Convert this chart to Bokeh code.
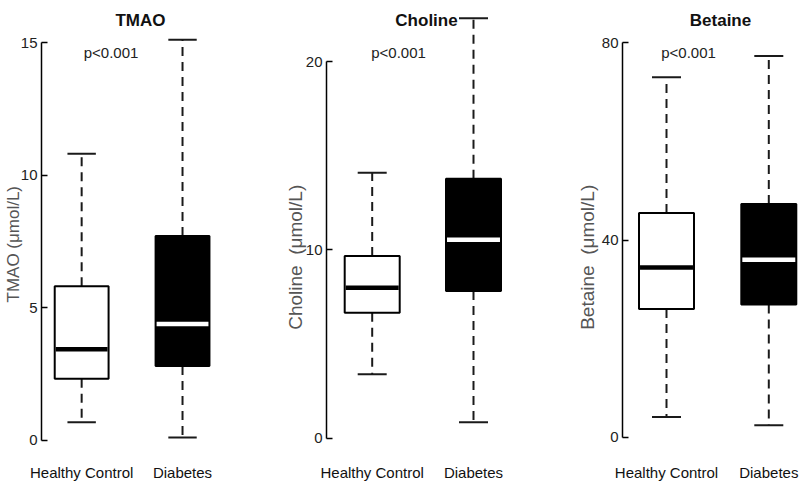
from bokeh.plotting import figure
from bokeh.layouts import row
from bokeh.models import Range1d, FixedTicker, Label, ColumnDataSource
from bokeh.embed import file_html
from bokeh.resources import INLINE

# ---------------- data ----------------
categories = ["Healthy Control", "Diabetes"]

tmao_low = [0.67, 0.09]
tmao_q1 = [2.31, 2.79]
tmao_med = [3.42, 4.38]
tmao_q3 = [5.80, 7.70]
tmao_high = [10.8, 15.1]

choline_low = [3.4, 0.85]
choline_q1 = [6.66, 7.81]
choline_med = [7.99, 10.54]
choline_q3 = [9.67, 13.78]
choline_high = [14.1, 22.3]

betaine_low = [4.1, 2.4]
betaine_q1 = [26.0, 26.9]
betaine_med = [34.4, 36.0]
betaine_q3 = [45.5, 47.3]
betaine_high = [73.0, 77.3]

tmao_ticks = [0, 5, 10, 15]
choline_ticks = [0, 10, 20]
betaine_ticks = [0, 40, 80]

titles = ["TMAO", "Choline", "Betaine"]
ylabels = ["TMAO (\u03bcmol/L)", "Choline\u00a0 (\u03bcmol/L)", "Betaine\u00a0 (\u03bcmol/L)"]
p_text = "p<0.001"

# ---------------- style / layout ----------------
FONT = "'Liberation Sans', Arial, sans-serif"
NBSP = "\u00a0"
box_fill = ["white", "black"]
median_color = ["black", "white"]

FIG_H = 485
FRAME_TOP = 0       # page px
FRAME_BOTTOM = 445  # page px

layouts = [
    dict(fig_x0=0, width=278, axis=36, c1=77, step=103.0, zero=439.5, top=42.0,
         title_x=137, p_x=107, ylab_size="17px", ylab_standoff=-5, ylab_pad=9),
    dict(fig_x0=278, width=260, axis=326, c1=371.7, step=101.3, zero=437.7, top=61.0,
         title_x=426, p_x=398, ylab_size="19px", ylab_standoff=-3, ylab_pad=13),
    dict(fig_x0=538, width=262, axis=622, c1=666, step=102.3, zero=436.7, top=42.3,
         title_x=720, p_x=688, ylab_size="19px", ylab_standoff=1, ylab_pad=13),
]

datasets = [
    (tmao_low, tmao_q1, tmao_med, tmao_q3, tmao_high, tmao_ticks),
    (choline_low, choline_q1, choline_med, choline_q3, choline_high, choline_ticks),
    (betaine_low, betaine_q1, betaine_med, betaine_q3, betaine_high, betaine_ticks),
]

xs = [i + 1 for i in range(len(categories))]

figs = []
for k, (lay, ds) in enumerate(zip(layouts, datasets)):
    low, q1, med, q3, high, ticks = ds
    tmax = ticks[-1]

    def xd(px, lay=lay):
        return 1 + (px - lay["c1"]) / lay["step"]

    def yd(py, lay=lay, tmax=tmax):
        return tmax * (lay["zero"] - py) / (lay["zero"] - lay["top"])

    p = figure(width=lay["width"], height=FIG_H,
               x_range=Range1d(xd(lay["axis"]), xd(lay["fig_x0"] + lay["width"])),
               y_range=Range1d(yd(FRAME_BOTTOM), yd(FRAME_TOP)),
               output_backend="svg", toolbar_location=None,
               min_border_left=lay["axis"] - lay["fig_x0"], min_border_right=0,
               min_border_top=FRAME_TOP, min_border_bottom=FIG_H - FRAME_BOTTOM)
    p.outline_line_color = None
    p.xgrid.visible = False
    p.ygrid.visible = False
    p.background_fill_color = "white"
    p.border_fill_color = "white"

    bw = 55 / lay["step"]
    cw = 29 / lay["step"]
    src = ColumnDataSource(dict(
        x=xs, low=low, q1=q1, med=med, q3=q3, high=high,
        xl=[x - bw / 2 + 0.01 for x in xs], xr=[x + bw / 2 - 0.01 for x in xs],
        cl=[x - cw / 2 for x in xs], cr=[x + cw / 2 for x in xs],
        fill=box_fill, medc=median_color,
    ))

    # whiskers (dashed)
    p.segment(x0="x", y0="q3", x1="x", y1="high", source=src,
              line_color="#1a1a1a", line_width=2, line_dash="9 6")
    p.segment(x0="x", y0="q1", x1="x", y1="low", source=src,
              line_color="#1a1a1a", line_width=2, line_dash="9 6")
    # caps
    p.segment(x0="cl", y0="high", x1="cr", y1="high", source=src,
              line_color="#1a1a1a", line_width=2)
    p.segment(x0="cl", y0="low", x1="cr", y1="low", source=src,
              line_color="#1a1a1a", line_width=2)
    # boxes
    p.vbar(x="x", width=bw, bottom="q1", top="q3", source=src,
           fill_color="fill", line_color="black", line_width=2)
    # medians
    p.segment(x0="xl", y0="med", x1="xr", y1="med", source=src,
              line_color="medc", line_width=4.5)

    # y axis
    ya = p.yaxis[0]
    ya.ticker = FixedTicker(ticks=ticks)
    ya.bounds = (ticks[0], ticks[-1])
    ya.major_tick_in = 6
    ya.major_tick_out = 0
    ya.minor_tick_line_color = None
    ya.axis_line_width = 1.5
    ya.major_tick_line_width = 1.5
    ya.major_label_standoff = 4
    ya.major_label_text_font = FONT
    ya.major_label_text_font_size = "15px"
    ya.major_label_text_color = "#222222"
    ya.axis_label = ylabels[k] + NBSP * lay["ylab_pad"]
    ya.axis_label_text_font = FONT
    ya.axis_label_text_font_size = lay["ylab_size"]
    ya.axis_label_text_font_style = "normal"
    ya.axis_label_text_color = "#555555"
    ya.axis_label_standoff = lay["ylab_standoff"]

    # x axis (category labels only)
    xa = p.xaxis[0]
    xa.ticker = FixedTicker(ticks=xs)
    xa.major_label_overrides = {x: c for x, c in zip(xs, categories)}
    xa.axis_line_color = None
    xa.major_tick_line_color = None
    xa.minor_tick_line_color = None
    xa.major_tick_in = 0
    xa.major_tick_out = 0
    xa.major_label_standoff = 18
    xa.major_label_text_font = FONT
    xa.major_label_text_font_size = "15px"
    xa.major_label_text_color = "#111111"

    # title
    p.add_layout(Label(x=xd(lay["title_x"]), y=yd(20), text=titles[k],
                       text_align="center", text_baseline="alphabetic",
                       text_font=FONT, text_font_size="17px",
                       text_font_style="bold", text_color="#111111"))
    # p-value
    p.add_layout(Label(x=xd(lay["p_x"]), y=yd(52), text=p_text,
                       text_align="center", text_baseline="alphabetic",
                       text_font=FONT, text_font_size="15px",
                       text_color="#222222"))
    figs.append(p)

layout = row(*figs, spacing=0)
open("out.html", "w").write(file_html(layout, INLINE))
